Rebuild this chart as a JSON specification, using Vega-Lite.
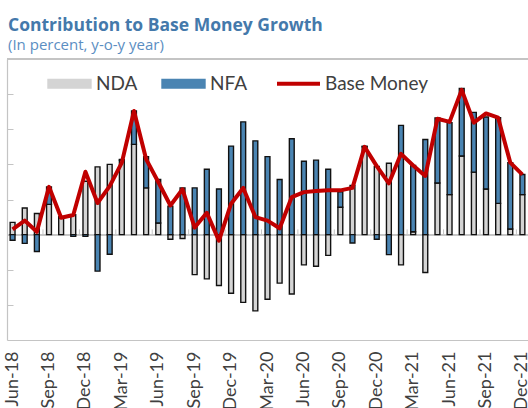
{
  "$schema": "https://vega.github.io/schema/vega-lite/v6.json",
  "width": 521,
  "height": 281,
  "autosize": {"type": "none"},
  "padding": {"left": 7, "top": 59, "right": 0, "bottom": 68},
  "background": "white",
  "title": {
    "text": "Contribution to Base Money Growth",
    "subtitle": "(In percent, y-o-y year)",
    "anchor": "start",
    "frame": "group",
    "font": "Open Sans",
    "fontSize": 17.5,
    "fontWeight": "bold",
    "color": "#4479ab",
    "subtitleFont": "Open Sans",
    "subtitleFontSize": 15,
    "subtitleColor": "#5b8ec2",
    "subtitlePadding": 4,
    "offset": 5,
    "dx": 1
  },
  "data": {
    "values": [
      {"month": "Jun-18", "NDA": 3.5, "NFA": -1.6, "Base Money": 1.5},
      {"month": "Jul-18", "NDA": 7.6, "NFA": -2.5, "Base Money": 4.0},
      {"month": "Aug-18", "NDA": 6.0, "NFA": -4.8, "Base Money": 0.8},
      {"month": "Sep-18", "NDA": 8.6, "NFA": 5.0, "Base Money": 13.6},
      {"month": "Oct-18", "NDA": 4.8, "NFA": 0.3, "Base Money": 4.8},
      {"month": "Nov-18", "NDA": 5.7, "NFA": -0.5, "Base Money": 5.6},
      {"month": "Dec-18", "NDA": 15.2, "NFA": -0.5, "Base Money": 17.9},
      {"month": "Jan-19", "NDA": 19.3, "NFA": -10.4, "Base Money": 9.0},
      {"month": "Feb-19", "NDA": 20.0, "NFA": -5.6, "Base Money": 13.8},
      {"month": "Mar-19", "NDA": 21.2, "NFA": 0.2, "Base Money": 20.5},
      {"month": "Apr-19", "NDA": 25.7, "NFA": 9.5, "Base Money": 35.2},
      {"month": "May-19", "NDA": 13.3, "NFA": 8.9, "Base Money": 21.5},
      {"month": "Jun-19", "NDA": 3.3, "NFA": 12.4, "Base Money": 15.0},
      {"month": "Jul-19", "NDA": -1.3, "NFA": 8.1, "Base Money": 8.3},
      {"month": "Aug-19", "NDA": -1.1, "NFA": 13.3, "Base Money": 12.9},
      {"month": "Sep-19", "NDA": -11.4, "NFA": 13.3, "Base Money": 2.0},
      {"month": "Oct-19", "NDA": -12.6, "NFA": 18.6, "Base Money": 6.2},
      {"month": "Nov-19", "NDA": -14.5, "NFA": 13.0, "Base Money": -1.7},
      {"month": "Dec-19", "NDA": -16.7, "NFA": 25.2, "Base Money": 8.8},
      {"month": "Jan-20", "NDA": -19.3, "NFA": 32.1, "Base Money": 13.3},
      {"month": "Feb-20", "NDA": -21.7, "NFA": 26.7, "Base Money": 5.0},
      {"month": "Mar-20", "NDA": -18.4, "NFA": 22.2, "Base Money": 4.0},
      {"month": "Apr-20", "NDA": -13.8, "NFA": 15.7, "Base Money": 1.8},
      {"month": "May-20", "NDA": -16.9, "NFA": 27.3, "Base Money": 10.7},
      {"month": "Jun-20", "NDA": -8.6, "NFA": 20.9, "Base Money": 12.1},
      {"month": "Jul-20", "NDA": -9.0, "NFA": 21.2, "Base Money": 12.4},
      {"month": "Aug-20", "NDA": -5.9, "NFA": 18.6, "Base Money": 12.6},
      {"month": "Sep-20", "NDA": 7.8, "NFA": 4.4, "Base Money": 12.6},
      {"month": "Oct-20", "NDA": 14.0, "NFA": -2.4, "Base Money": 13.3},
      {"month": "Nov-20", "NDA": 25.0, "NFA": 0.2, "Base Money": 25.0},
      {"month": "Dec-20", "NDA": 19.4, "NFA": -1.3, "Base Money": 19.5},
      {"month": "Jan-21", "NDA": 20.3, "NFA": -5.7, "Base Money": 14.6},
      {"month": "Feb-21", "NDA": -8.6, "NFA": 31.1, "Base Money": 23.0},
      {"month": "Mar-21", "NDA": 0.8, "NFA": 18.9, "Base Money": 19.7},
      {"month": "Apr-21", "NDA": -10.8, "NFA": 27.1, "Base Money": 16.7},
      {"month": "May-21", "NDA": 14.7, "NFA": 18.5, "Base Money": 33.0},
      {"month": "Jun-21", "NDA": 11.4, "NFA": 20.5, "Base Money": 32.1},
      {"month": "Jul-21", "NDA": 22.4, "NFA": 19.2, "Base Money": 41.2},
      {"month": "Aug-21", "NDA": 17.8, "NFA": 17.0, "Base Money": 31.9},
      {"month": "Sep-21", "NDA": 13.0, "NFA": 20.5, "Base Money": 34.5},
      {"month": "Oct-21", "NDA": 8.9, "NFA": 24.4, "Base Money": 33.3},
      {"month": "Nov-21", "NDA": 1.6, "NFA": 18.9, "Base Money": 20.5},
      {"month": "Dec-21", "NDA": 11.4, "NFA": 5.7, "Base Money": 17.1}
    ]
  },
  "encoding": {
    "x": {
      "field": "month",
      "type": "nominal",
      "scale": {
        "domain": ["Jun-18", "Jul-18", "Aug-18", "Sep-18", "Oct-18", "Nov-18", "Dec-18", "Jan-19", "Feb-19", "Mar-19", "Apr-19", "May-19", "Jun-19", "Jul-19", "Aug-19", "Sep-19", "Oct-19", "Nov-19", "Dec-19", "Jan-20", "Feb-20", "Mar-20", "Apr-20", "May-20", "Jun-20", "Jul-20", "Aug-20", "Sep-20", "Oct-20", "Nov-20", "Dec-20", "Jan-21", "Feb-21", "Mar-21", "Apr-21", "May-21", "Jun-21", "Jul-21", "Aug-21", "Sep-21", "Oct-21", "Nov-21", "Dec-21"],
        "paddingInner": 0.6,
        "paddingOuter": 0.26
      },
      "axis": {
        "title": null,
        "values": ["Jun-18", "Sep-18", "Dec-18", "Mar-19", "Jun-19", "Sep-19", "Dec-19", "Mar-20", "Jun-20", "Sep-20", "Dec-20", "Mar-21", "Jun-21", "Sep-21", "Dec-21"],
        "labelAngle": -90,
        "labelFont": "Lato",
        "labelFontSize": 18,
        "labelColor": "#404040",
        "labelPadding": 11,
        "labelOverlap": false,
        "ticks": false,
        "domainColor": "#c4c4c4",
        "domainWidth": 1.2,
        "grid": false
      }
    }
  },
  "layer": [
    {
      "mark": {"type": "rule", "color": "#c4c4c4", "strokeWidth": 1},
      "encoding": {"y": {"datum": 0, "type": "quantitative"}, "x": null}
    },
    {
      "mark": {"type": "rule", "color": "#c4c4c4", "strokeWidth": 1.2},
      "encoding": {"y": {"datum": 50, "type": "quantitative"}, "x": null}
    },
    {
      "transform": [
        {"filter": {"field": "month", "oneOf": ["Sep-18", "Dec-18", "Mar-19", "Jun-19", "Sep-19", "Dec-19", "Mar-20", "Jun-20", "Sep-20", "Dec-20", "Mar-21", "Jun-21", "Sep-21", "Dec-21"]}}
      ],
      "mark": {"type": "rule", "color": "#c4c4c4", "strokeWidth": 1, "xOffset": -3.6},
      "encoding": {
        "x": {"field": "month", "type": "nominal", "bandPosition": 0},
        "y": {"datum": 0, "type": "quantitative"},
        "y2": {"datum": 1.5}
      }
    },
    {
      "transform": [{"fold": ["NDA", "NFA"], "as": ["series", "value"]}],
      "mark": {"type": "bar", "stroke": "#111111", "strokeWidth": 1.4},
      "encoding": {
        "y": {
          "field": "value",
          "type": "quantitative",
          "stack": "zero",
          "scale": {"domain": [-30, 50], "nice": false},
          "axis": {
            "title": null,
            "labels": false,
            "values": [-20, -10, 0, 10, 20, 30, 40],
            "tickSize": -6,
            "tickColor": "#c4c4c4",
            "domainColor": "#c4c4c4",
            "domainWidth": 1.2,
            "grid": false
          }
        },
        "order": {"field": "series", "sort": "ascending"},
        "color": {
          "field": "series",
          "type": "nominal",
          "scale": {"domain": ["NDA", "NFA", "Base Money"], "range": ["#d4d4d4", "#4a84b2", "#c00000"]},
          "legend": {
            "title": null,
            "orient": "none",
            "legendX": 53,
            "legendY": 15,
            "direction": "horizontal",
            "values": ["NDA", "NFA", "Base Money"],
            "symbolSize": 1849,
            "labelFont": "Lato",
            "labelFontSize": 19,
            "labelColor": "#404040",
            "labelOffset": 17,
            "columnPadding": 21,
            "encode": {
              "symbols": {
                "update": {
                  "shape": {"signal": "datum.value === 'Base Money' ? 'M-1,0H1' : 'M-1,-0.2H1V0.2H-1Z'"},
                  "fill": {"signal": "datum.value === 'NDA' ? '#d4d4d4' : datum.value === 'NFA' ? '#4a84b2' : 'transparent'"},
                  "stroke": {"signal": "datum.value === 'Base Money' ? '#c00000' : '#111111'"},
                  "strokeWidth": {"signal": "datum.value === 'Base Money' ? 4 : 1.4"},
                  "size": {"value": 1849},
                  "opacity": {"value": 1}
                }
              }
            }
          }
        }
      }
    },
    {
      "mark": {"type": "line", "strokeWidth": 4, "strokeJoin": "round"},
      "encoding": {
        "y": {"field": "Base Money", "type": "quantitative"},
        "color": {
          "datum": "Base Money",
          "type": "nominal",
          "legend": {
            "title": null,
            "orient": "none",
            "legendX": 53,
            "legendY": 15,
            "direction": "horizontal",
            "values": ["NDA", "NFA", "Base Money"],
            "symbolSize": 1849,
            "labelFont": "Lato",
            "labelFontSize": 19,
            "labelColor": "#404040",
            "labelOffset": 17,
            "columnPadding": 21,
            "encode": {
              "symbols": {
                "update": {
                  "shape": {"signal": "datum.value === 'Base Money' ? 'M-1,0H1' : 'M-1,-0.2H1V0.2H-1Z'"},
                  "fill": {"signal": "datum.value === 'NDA' ? '#d4d4d4' : datum.value === 'NFA' ? '#4a84b2' : 'transparent'"},
                  "stroke": {"signal": "datum.value === 'Base Money' ? '#c00000' : '#111111'"},
                  "strokeWidth": {"signal": "datum.value === 'Base Money' ? 4 : 1.4"},
                  "size": {"value": 1849},
                  "opacity": {"value": 1}
                }
              }
            }
          }
        }
      }
    }
  ],
  "config": {"view": {"stroke": null}}
}
